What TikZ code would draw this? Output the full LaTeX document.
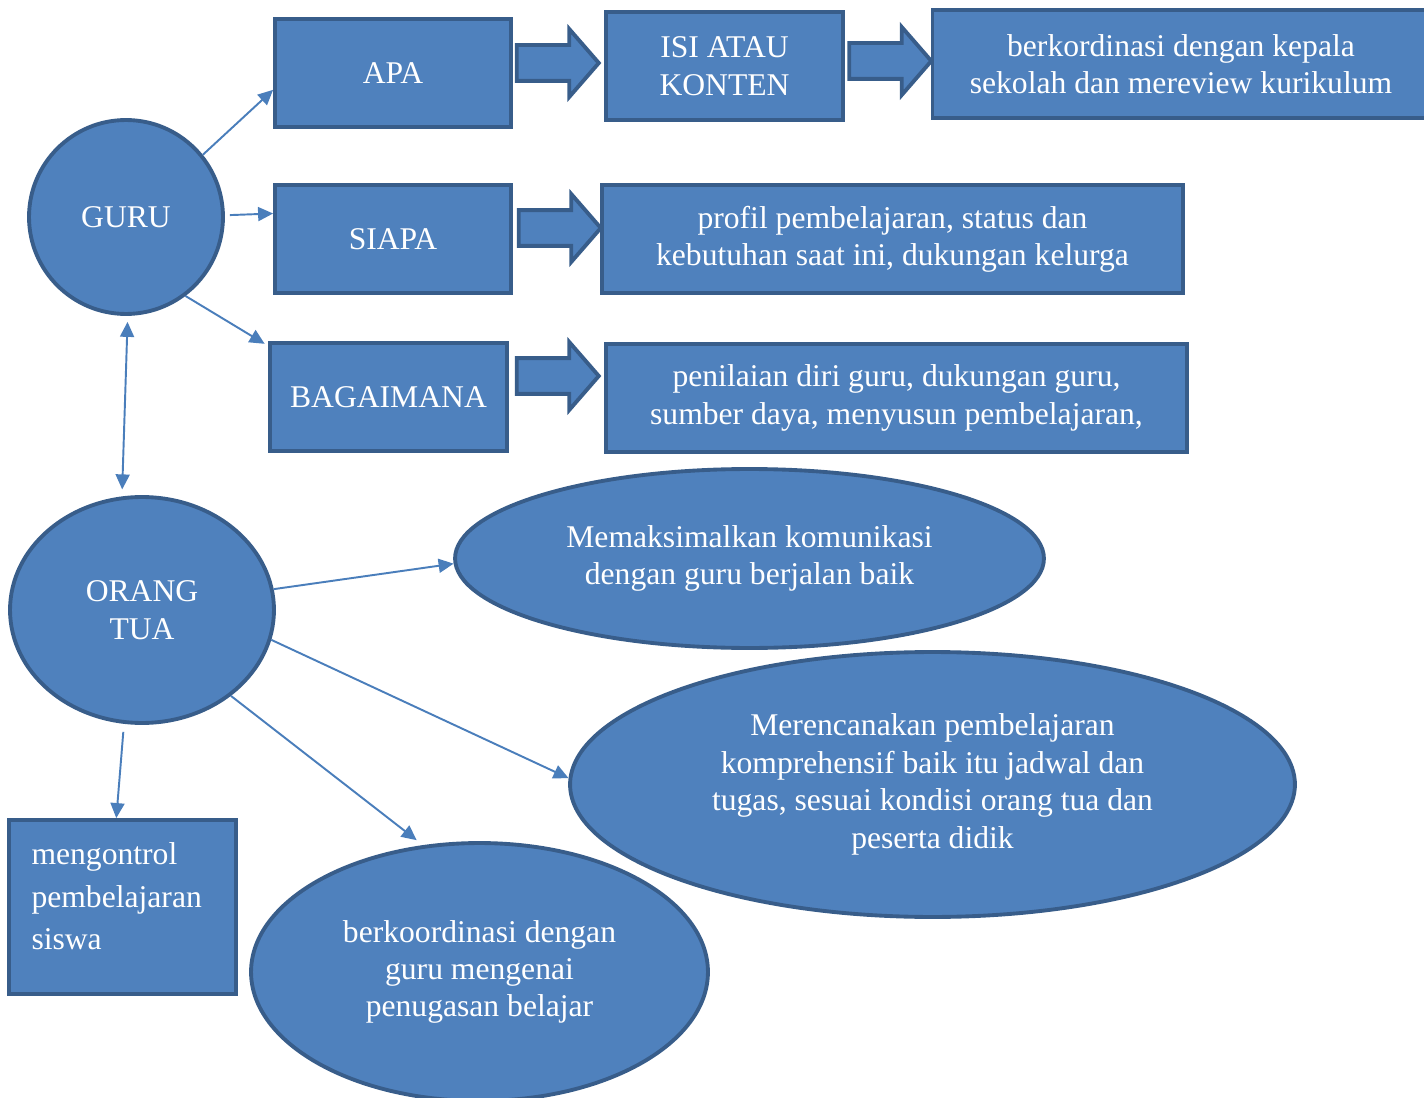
\documentclass[tikz,border=0pt]{standalone}
\usepackage{fontspec}
\setmainfont{Liberation Serif}
\usetikzlibrary{shapes.geometric,shapes.arrows,arrows.meta}
\definecolor{boxfill}{HTML}{4F81BD}
\definecolor{boxline}{HTML}{385D8A}
\definecolor{conline}{HTML}{4A7EBB}

\begin{document}
\begin{tikzpicture}[x=0.02cm, y=-0.02cm, >={Triangle[length=0.3cm, width=0.28cm]},
    box/.style={draw=boxline, fill=boxfill, line width=2.2pt, rectangle, text=white,
        align=center, inner sep=0pt, font=\fontsize{18}{21.3}\selectfont},
    bubble/.style={box, ellipse},
    blockarr/.style={draw=boxline, fill=boxfill, line width=2.2pt, single arrow,
        single arrow head extend=0.32cm, single arrow tip angle=98,
        minimum width=1.28cm, minimum height=1.64cm, inner xsep=0pt, inner ysep=0.32cm},
    con/.style={draw=conline, line width=1.1pt, ->}]
    \useasboundingbox (0,0) rectangle (1424,1098);

    % guru side
    \node (guru) [box, circle, minimum size=3.88cm] at (126,217) {GURU};
    \node (apa) [box, minimum width=4.72cm, minimum height=2.16cm] at (393,73) {APA};
    \node (isi) [box, minimum width=4.74cm, minimum height=2.16cm] at (724.5,66) {ISI ATAU\\KONTEN};
    \node (kepala) [box, minimum width=9.94cm, minimum height=2.16cm] at (1181,64)
        {berkordinasi dengan kepala\\sekolah dan mereview kurikulum};
    \node (siapa) [box, minimum width=4.72cm, minimum height=2.16cm] at (393,239) {SIAPA};
    \node (profil) [box, minimum width=11.62cm, minimum height=2.16cm] at (892.5,239)
        {profil pembelajaran, status dan\\kebutuhan saat ini, dukungan kelurga};
    \node (bagaimana) [box, minimum width=4.74cm, minimum height=2.16cm] at (388.5,397) {BAGAIMANA};
    \node (penilaian) [box, minimum width=11.62cm, minimum height=2.16cm] at (896.5,398)
        {penilaian diri guru, dukungan guru,\\sumber daya, menyusun pembelajaran,};

    \node (a1) [blockarr] at (550,63) {};
    \node (a2) [blockarr] at (882.5,61) {};
    \node (a3) [blockarr] at (552,228) {};
    \node (a4) [blockarr] at (550,376) {};

    % orang tua side
    \node (ortu) [bubble, minimum width=5.28cm, minimum height=4.52cm] at (142,610) {ORANG\\TUA};
    \node (komunikasi) [bubble, minimum width=11.78cm, minimum height=3.58cm] at (749.5,558.5)
        {Memaksimalkan komunikasi\\dengan guru berjalan baik};
    \node (rencana) [bubble, minimum width=14.5cm, minimum height=5.3cm] at (932.5,784.5)
        {Merencanakan pembelajaran\\komprehensif baik itu jadwal dan\\tugas, sesuai kondisi orang tua dan\\peserta didik};
    \node (tugas) [bubble, minimum width=9.14cm, minimum height=5.16cm] at (479.5,972)
        {berkoordinasi dengan\\guru mengenai\\penugasan belajar};
    \node (kontrol) [box, minimum width=4.54cm, minimum height=3.48cm]
        at (122.5,907) {\parbox[c][2.56cm][t]{3.64cm}{\fontsize{18}{24}\selectfont\raggedright
        mengontrol\\pembelajaran\\siswa}};

    \draw[con] (guru.39) -- (apa.188);
    \draw[con, shorten <=0.1cm] (guru.1) -- (siapa.168);
    \draw[con, shorten >=0.08cm] (guru.-53) -- (bagaimana.157);
    \draw[con, <->, shorten <=0.12cm, shorten >=0.14cm] (guru.-89) -- (ortu.100);
    \draw[con] (ortu.9) -- (komunikasi.181);
    \draw[con] (ortu.-13) -- (rencana.179);
    \draw[con, shorten >=0.16cm] (ortu.-44) -- (tugas.114);
    \draw[con, shorten <=0.16cm] (ortu.-99) -- (kontrol.94);
\end{tikzpicture}
\end{document}
